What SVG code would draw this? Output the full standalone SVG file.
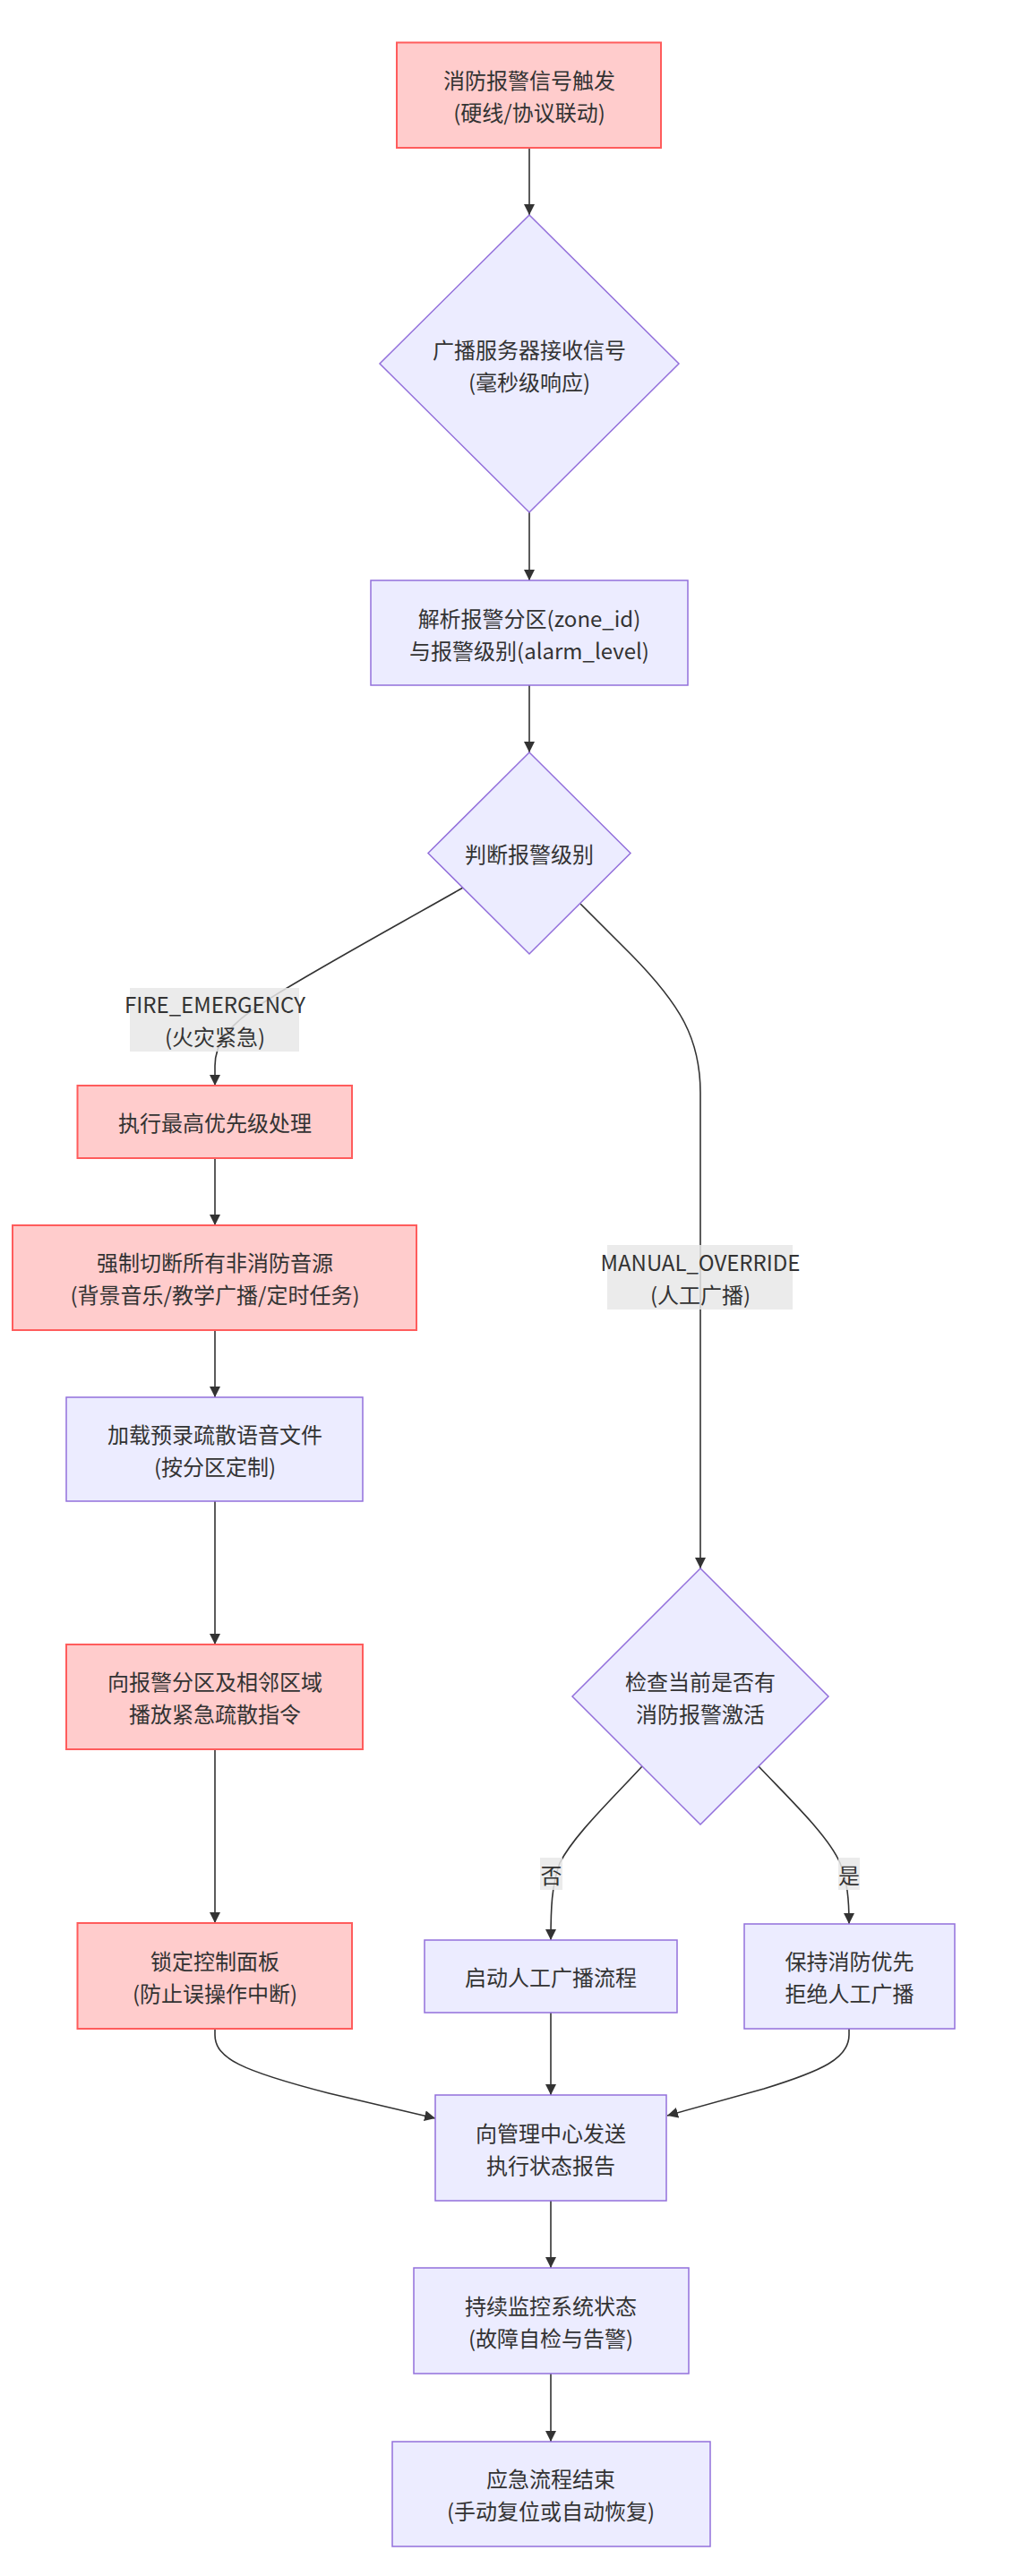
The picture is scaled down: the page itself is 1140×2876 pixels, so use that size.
<svg xmlns="http://www.w3.org/2000/svg" width="1140" height="2876" viewBox="0 0 1140 2876">
<style>
.t{font-family:"Noto Sans CJK SC","Noto Sans",sans-serif;font-size:24px;fill:#333;text-anchor:middle;dominant-baseline:central}
.red{fill:#ffcccc;stroke:#ff5c5c;stroke-width:2}
.pur{fill:#ececff;stroke:#9370db;stroke-width:1.5}
.e{fill:none;stroke:#333;stroke-width:1.6}
.lb{fill:#e8e8e8;opacity:0.85}
</style>
<defs>
<marker id="ah" markerUnits="userSpaceOnUse" markerWidth="12" markerHeight="12" refX="12" refY="6" orient="auto">
<path d="M0,0 L12,6 L0,12 z" fill="#333"/>
</marker>
</defs>
<rect width="1140" height="2876" fill="#fff"/>
<g id="edges">
<path class="e" d="M591,165 L591,240" marker-end="url(#ah)"/>
<path class="e" d="M591,572 L591,648" marker-end="url(#ah)"/>
<path class="e" d="M591,765 L591,840" marker-end="url(#ah)"/>
<path class="e" d="M517,991 C420,1046 330,1095 290,1122 C255,1145 240,1165 240,1190 L240,1212" marker-end="url(#ah)"/>
<path class="e" d="M240,1293 L240,1368" marker-end="url(#ah)"/>
<path class="e" d="M240,1485 L240,1560" marker-end="url(#ah)"/>
<path class="e" d="M240,1676 L240,1836" marker-end="url(#ah)"/>
<path class="e" d="M240,1953 L240,2147" marker-end="url(#ah)"/>
<path class="e" d="M648,1009 L705,1066 C760,1122 782,1160 782,1220 L782,1751" marker-end="url(#ah)"/>
<path class="e" d="M717,1972 C680,2012 640,2050 625,2080 C616,2105 615,2130 615,2166" marker-end="url(#ah)"/>
<path class="e" d="M847,1972 C885,2012 925,2050 938,2080 C946,2100 948,2120 948,2148" marker-end="url(#ah)"/>
<path class="e" d="M240,2265 L240,2272 C240,2298 270,2312 367,2337 L486,2365" marker-end="url(#ah)"/>
<path class="e" d="M615,2247 L615,2339" marker-end="url(#ah)"/>
<path class="e" d="M948,2265 L948,2272 C948,2298 918,2312 853,2332 L745,2362" marker-end="url(#ah)"/>
<path class="e" d="M615,2457 L615,2532" marker-end="url(#ah)"/>
<path class="e" d="M615,2650 L615,2726" marker-end="url(#ah)"/>
</g>
<g id="edge-labels">
<g id="lbl-fire"><rect class="lb" x="145" y="1103" width="189" height="71"/><text class="t" x="240" y="1120.5">FIRE_EMERGENCY</text><text class="t" x="240" y="1156.5">(火灾紧急)</text></g>
<g id="lbl-manual"><rect class="lb" x="678" y="1390" width="207" height="72"/><text class="t" x="782" y="1408">MANUAL_OVERRIDE</text><text class="t" x="782" y="1444">(人工广播)</text></g>
<g id="lbl-no"><rect class="lb" x="603" y="2074" width="25" height="36"/><text class="t" x="615.5" y="2092">否</text></g>
<g id="lbl-yes"><rect class="lb" x="936" y="2074" width="24" height="36"/><text class="t" x="948" y="2092">是</text></g>
</g>
<g id="n1"><rect class="red" x="443" y="47.5" width="295" height="117.5"/><text class="t" x="591" y="88">消防报警信号触发</text><text class="t" x="591" y="124">(硬线/协议联动)</text></g>
<g id="n2"><polygon class="pur" points="591,240 758,406 591,572 424,406"/><text class="t" x="591" y="389">广播服务器接收信号</text><text class="t" x="591" y="425">(毫秒级响应)</text></g>
<g id="n3"><rect class="pur" x="414" y="648" width="354" height="117"/><text class="t" x="591" y="689">解析报警分区(zone_id)</text><text class="t" x="591" y="725">与报警级别(alarm_level)</text></g>
<g id="n4"><polygon class="pur" points="591,840 704,952.5 591,1065 478,952.5"/><text class="t" x="591" y="952">判断报警级别</text></g>
<g id="n5"><rect class="red" x="86.5" y="1212" width="306.5" height="81"/><text class="t" x="240" y="1252.5">执行最高优先级处理</text></g>
<g id="n6"><rect class="red" x="14" y="1368" width="451" height="117"/><text class="t" x="240" y="1408.5">强制切断所有非消防音源</text><text class="t" x="240" y="1444.5">(背景音乐/教学广播/定时任务)</text></g>
<g id="n7"><rect class="pur" x="74" y="1560" width="331" height="116"/><text class="t" x="240" y="1600">加载预录疏散语音文件</text><text class="t" x="240" y="1636">(按分区定制)</text></g>
<g id="n8"><rect class="red" x="74" y="1836" width="331" height="117"/><text class="t" x="240" y="1876.5">向报警分区及相邻区域</text><text class="t" x="240" y="1912.5">播放紧急疏散指令</text></g>
<g id="n9"><rect class="red" x="86.5" y="2147" width="306.5" height="118"/><text class="t" x="240" y="2188">锁定控制面板</text><text class="t" x="240" y="2224">(防止误操作中断)</text></g>
<g id="n10"><polygon class="pur" points="782,1751 925,1894 782,2037 639,1894"/><text class="t" x="782" y="1876">检查当前是否有</text><text class="t" x="782" y="1912">消防报警激活</text></g>
<g id="n11"><rect class="pur" x="474" y="2166" width="282" height="81"/><text class="t" x="615" y="2206.5">启动人工广播流程</text></g>
<g id="n12"><rect class="pur" x="831" y="2148" width="235" height="117"/><text class="t" x="948.5" y="2188.5">保持消防优先</text><text class="t" x="948.5" y="2224.5">拒绝人工广播</text></g>
<g id="n13"><rect class="pur" x="486" y="2339" width="258" height="118"/><text class="t" x="615" y="2380">向管理中心发送</text><text class="t" x="615" y="2416">执行状态报告</text></g>
<g id="n14"><rect class="pur" x="462" y="2532" width="307" height="118"/><text class="t" x="615" y="2573">持续监控系统状态</text><text class="t" x="615" y="2609">(故障自检与告警)</text></g>
<g id="n15"><rect class="pur" x="438" y="2726" width="355" height="117"/><text class="t" x="615" y="2766.5">应急流程结束</text><text class="t" x="615" y="2802.5">(手动复位或自动恢复)</text></g>
</svg>
